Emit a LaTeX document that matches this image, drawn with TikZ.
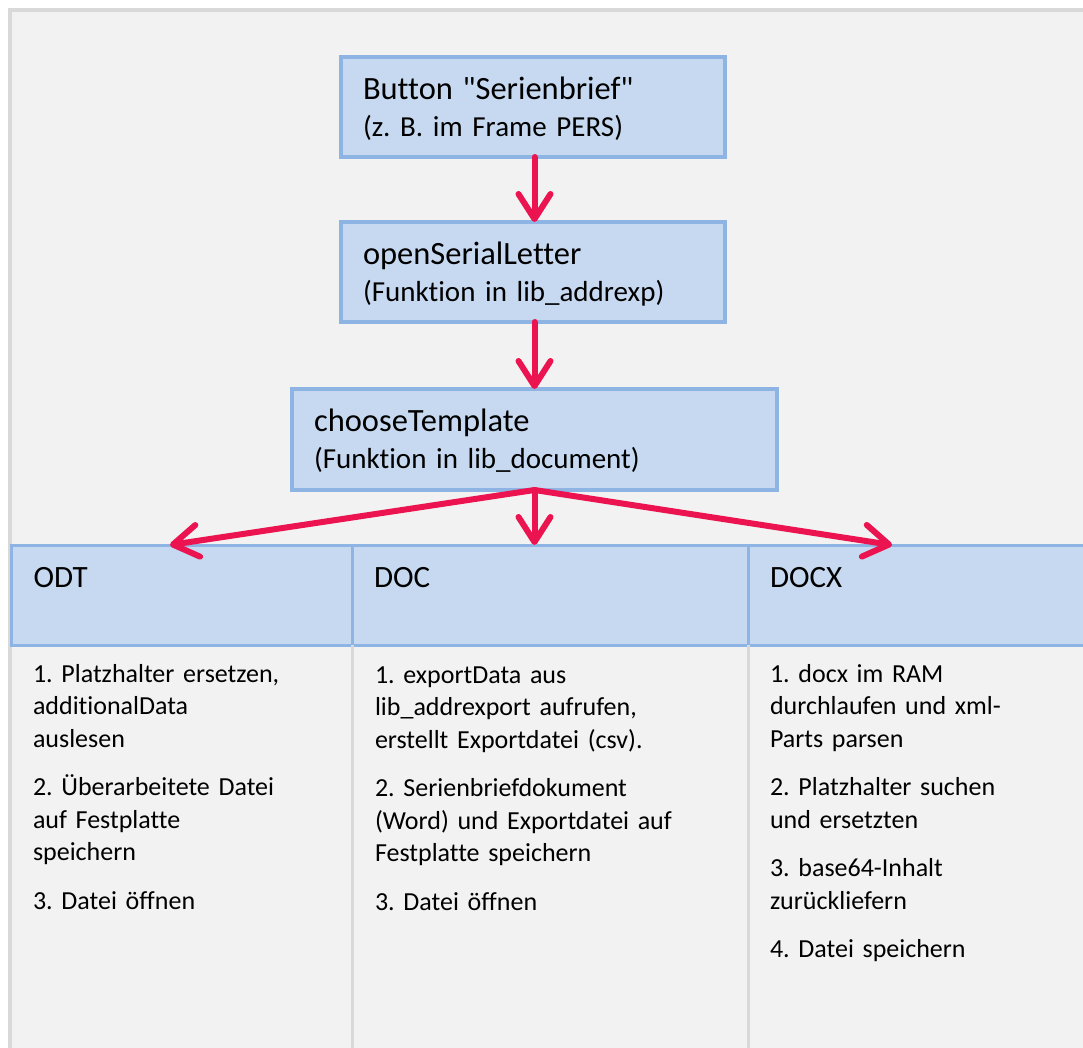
\documentclass[tikz,border=0pt]{standalone}
\usepackage{fontspec}
\setmainfont{Carlito}[Ligatures={TeXOff,CommonOff}]
\usetikzlibrary{arrows.meta}

\definecolor{framegray}{HTML}{D9D9D9}
\definecolor{panelgray}{HTML}{F2F2F2}
\definecolor{boxblue}{HTML}{C6D9F1}
\definecolor{lineblue}{HTML}{8EB4E3}
\definecolor{flowred}{HTML}{EC1450}

\newcommand{\bigline}[1]{{\fontsize{32.5}{37}\selectfont #1}}
\frenchspacing

\begin{document}
\begin{tikzpicture}[x=1pt, y=-1pt,
    every node/.style={inner sep=0pt, outer sep=0pt},
    stepbox/.style={draw=lineblue, line width=3.5pt, fill=boxblue, anchor=north west,
      inner xsep=22pt, text height=42pt, text depth=58pt, align=left,
      font=\fontsize{29}{37}\selectfont},
    headcell/.style={draw=lineblue, line width=3pt, fill=boxblue, anchor=north west,
      inner xsep=22pt, text height=42pt, text depth=58pt, align=left,
      font=\fontsize{31}{37}\selectfont},
    steplist/.style={anchor=base west, text width=340pt, align=left,
      font=\fontsize{26}{32.5}\selectfont},
    flow/.style={draw=flowred, line width=6pt, line cap=round,
      -{Straight Barb[length=25pt, width=32pt, round]}}]
  \clip (0,0) rectangle (1083,1047);
  \fill[white] (0,0) rectangle (1083,1047);
  \fill[panelgray] (10,10) rectangle (1100,1060);
  \draw[framegray, line width=4pt] (10,1060) -- (10,10) -- (1100,10);

  % call chain
  \node[stepbox, text width=340pt] (button) at (341,57)
    {\bigline{Button "Serienbrief"}\\(z. B. im Frame PERS)};
  \node[stepbox, text width=340pt] (openSL) at (341,222)
    {\bigline{openSerialLetter}\\(Funktion in lib\_addrexp)};
  \node[stepbox, text width=441pt, text depth=59pt] (choose) at (292,389)
    {\bigline{chooseTemplate}\\(Funktion in lib\_document)};

  % formats
  \node[headcell, text width=296.5pt] (odt) at (11.5,545) {ODT};
  \node[headcell, text width=352pt] (doc) at (352,545) {DOC};
  \node[headcell, text width=330pt] (docx) at (748,545) {DOCX};
  \draw[framegray, line width=3pt] (doc.south west) -- ++(0,420);
  \draw[framegray, line width=3pt] (docx.south west) -- ++(0,420);

  \node[steplist] (odtSteps) at (33,682)
    {1. Platzhalter ersetzen,\\ additionalData\\ auslesen\\[16pt]
     2. Überarbeitete Datei\\ auf Festplatte\\ speichern\\[16pt]
     3. Datei öffnen};
  \node[steplist] (docSteps) at (375,683)
    {1. exportData aus\\ lib\_addrexport aufrufen,\\ erstellt Exportdatei (csv).\\[16pt]
     2. Serienbriefdokument\\ (Word) und Exportdatei auf\\ Festplatte speichern\\[16pt]
     3. Datei öffnen};
  \node[steplist] (docxSteps) at (770,682)
    {1. docx im RAM\\ durchlaufen und xml-\\ Parts parsen\\[16pt]
     2. Platzhalter suchen\\ und ersetzten\\[16pt]
     3. base64-Inhalt\\ zurückliefern\\[16pt]
     4. Datei speichern};

  \coordinate (odtTip) at (170,545);
  \coordinate (docxTip) at (892,545);
  \draw[flow] (choose.north |- button.south) -- (choose.north |- openSL.north);
  \draw[flow] (choose.north |- openSL.south) -- (choose.north);
  \draw[flow] (choose.south) -- (choose.south |- doc.north);
  \draw[flow] (choose.south) -- (odtTip);
  \draw[flow] (choose.south) -- (docxTip);
\end{tikzpicture}
\end{document}
